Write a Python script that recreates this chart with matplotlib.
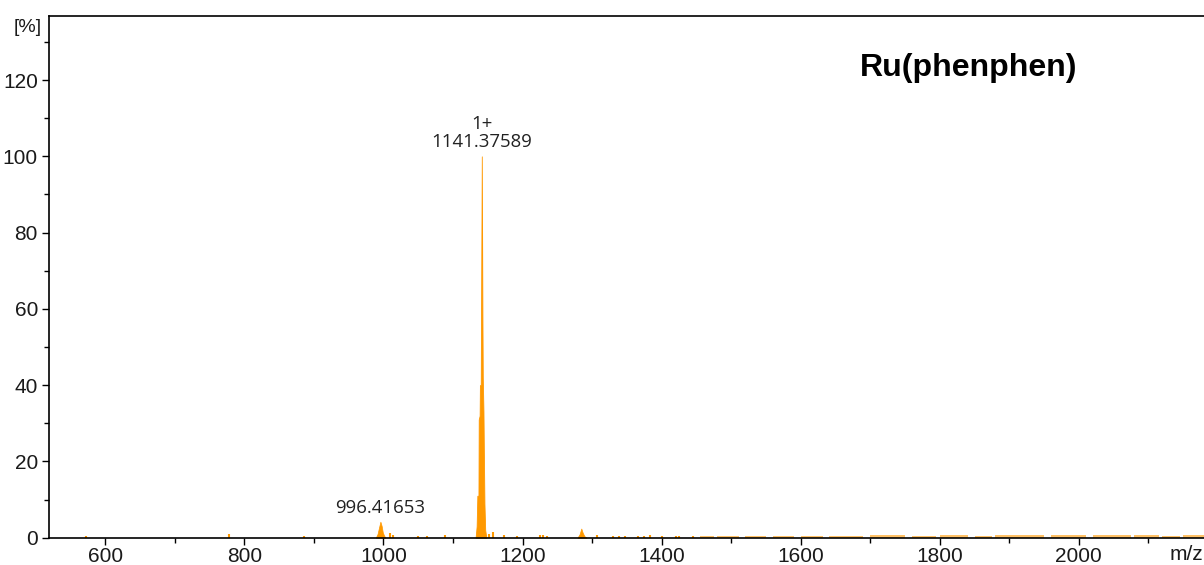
import matplotlib.pyplot as plt
from matplotlib.ticker import MultipleLocator

# main isotope cluster (profile)
main_mz = [1132.5, 1134, 1135, 1136.6, 1137.0, 1138.3, 1138.7, 1139.9, 1140.3, 1141.4,
           1142.3, 1142.8, 1143.8, 1144.4, 1145.2, 1146.3, 1148]
main_int = [0, 3, 11, 11, 31, 32, 40, 40, 57, 100, 58, 42, 33, 22, 9, 2, 0]

# smaller clusters (profile)
c996_mz = [989, 991.5, 993.5, 995.6, 997.5, 999, 1001, 1003]
c996_int = [0, 1.0, 2.6, 4.2, 3.0, 1.4, 0.5, 0]
c1285_mz = [1279, 1282, 1284.5, 1286.5, 1289, 1292]
c1285_int = [0, 0.9, 2.4, 1.3, 0.4, 0]

# isolated small peaks
minor_mz = [572, 778, 886, 1009, 1013, 1049, 1062, 1088, 1152, 1157, 1174, 1192,
            1225, 1229, 1235, 1307, 1330, 1339, 1348, 1366, 1375, 1384, 1401,
            1421, 1425, 1445]
minor_int = [0.5, 1.0, 0.5, 1.2, 0.8, 0.5, 0.5, 0.6, 1.0, 1.5, 0.6, 0.5,
             0.8, 0.6, 0.5, 0.6, 0.5, 0.5, 0.5, 0.5, 0.5, 0.6, 0.5,
             0.5, 0.5, 0.5]

# baseline noise bands at high m/z
band_lo = [1455, 1480, 1520, 1560, 1600, 1640, 1700, 1760, 1800, 1850, 1880, 1960, 2020, 2080, 2120, 2150]
band_hi = [1475, 1512, 1550, 1590, 1632, 1690, 1750, 1795, 1840, 1875, 1950, 2010, 2075, 2115, 2145, 2180]
band_int = [0.5, 0.55, 0.5, 0.55, 0.55, 0.55, 0.6, 0.55, 0.6, 0.55, 0.6, 0.6, 0.65, 0.6, 0.55, 0.6]

x_ticks = [600, 800, 1000, 1200, 1400, 1600, 1800, 2000]
y_ticks = [0, 20, 40, 60, 80, 100, 120]

orange = '#FF9900'

fig = plt.figure(figsize=(12.04, 5.65), dpi=100)
ax = fig.add_axes([49 / 1204, 27.3 / 565, 1 - 49 / 1204, 521.7 / 565])

ax.fill_between(main_mz, main_int, color=orange, lw=0.6, ec=orange)
ax.fill_between(c996_mz, c996_int, color=orange, lw=0.5, ec=orange)
ax.fill_between(c1285_mz, c1285_int, color=orange, lw=0.5, ec=orange)
ax.vlines(minor_mz, 0, minor_int, color=orange, lw=1.5)
for lo, hi, h in zip(band_lo, band_hi, band_int):
    ax.fill_between([lo, hi], [h, h], color=orange, alpha=0.6, lw=0)

ax.set_xlim(519, 2180)
ax.set_ylim(0, 136.8)
ax.set_xticks(x_ticks)
ax.set_yticks(y_ticks)
ax.xaxis.set_minor_locator(MultipleLocator(100))
ax.yaxis.set_minor_locator(MultipleLocator(10))
ax.tick_params(which='major', length=5, width=1, labelsize=15, pad=3,
               labelcolor='#1a1a1a')
ax.tick_params(axis='x', which='major', pad=1.5)
ax.tick_params(which='minor', length=3.5, width=1)
for lab in ax.get_xticklabels() + ax.get_yticklabels():
    lab.set_family('Liberation Sans')
ax.spines['right'].set_visible(False)
for s in ['left', 'bottom', 'top']:
    ax.spines[s].set_linewidth(1.2)

fig.text(27.5 / 1204, 1 - 27 / 565, '[%]', ha='center', va='center',
         fontsize=14, family='Liberation Sans', color='#1a1a1a')
fig.text(1203 / 1204, 1 - 555 / 565, 'm/z', ha='right', va='center', fontsize=15,
         family='Liberation Sans', color='#1a1a1a')

ax.text(0.702, 0.90, 'Ru(phenphen)', transform=ax.transAxes, ha='left', va='center',
        fontsize=23, fontweight='bold', family='Liberation Sans')

ax.text(1141.4, 101.5, '1+\n1141.37589', ha='center', va='bottom', fontsize=13.4,
        family='Open Sans', color='#222222', linespacing=0.95)
ax.text(995.6, 5.5, '996.41653', ha='center', va='bottom', fontsize=13.4,
        family='Open Sans', color='#222222')

fig.savefig('out.png', dpi=100)
